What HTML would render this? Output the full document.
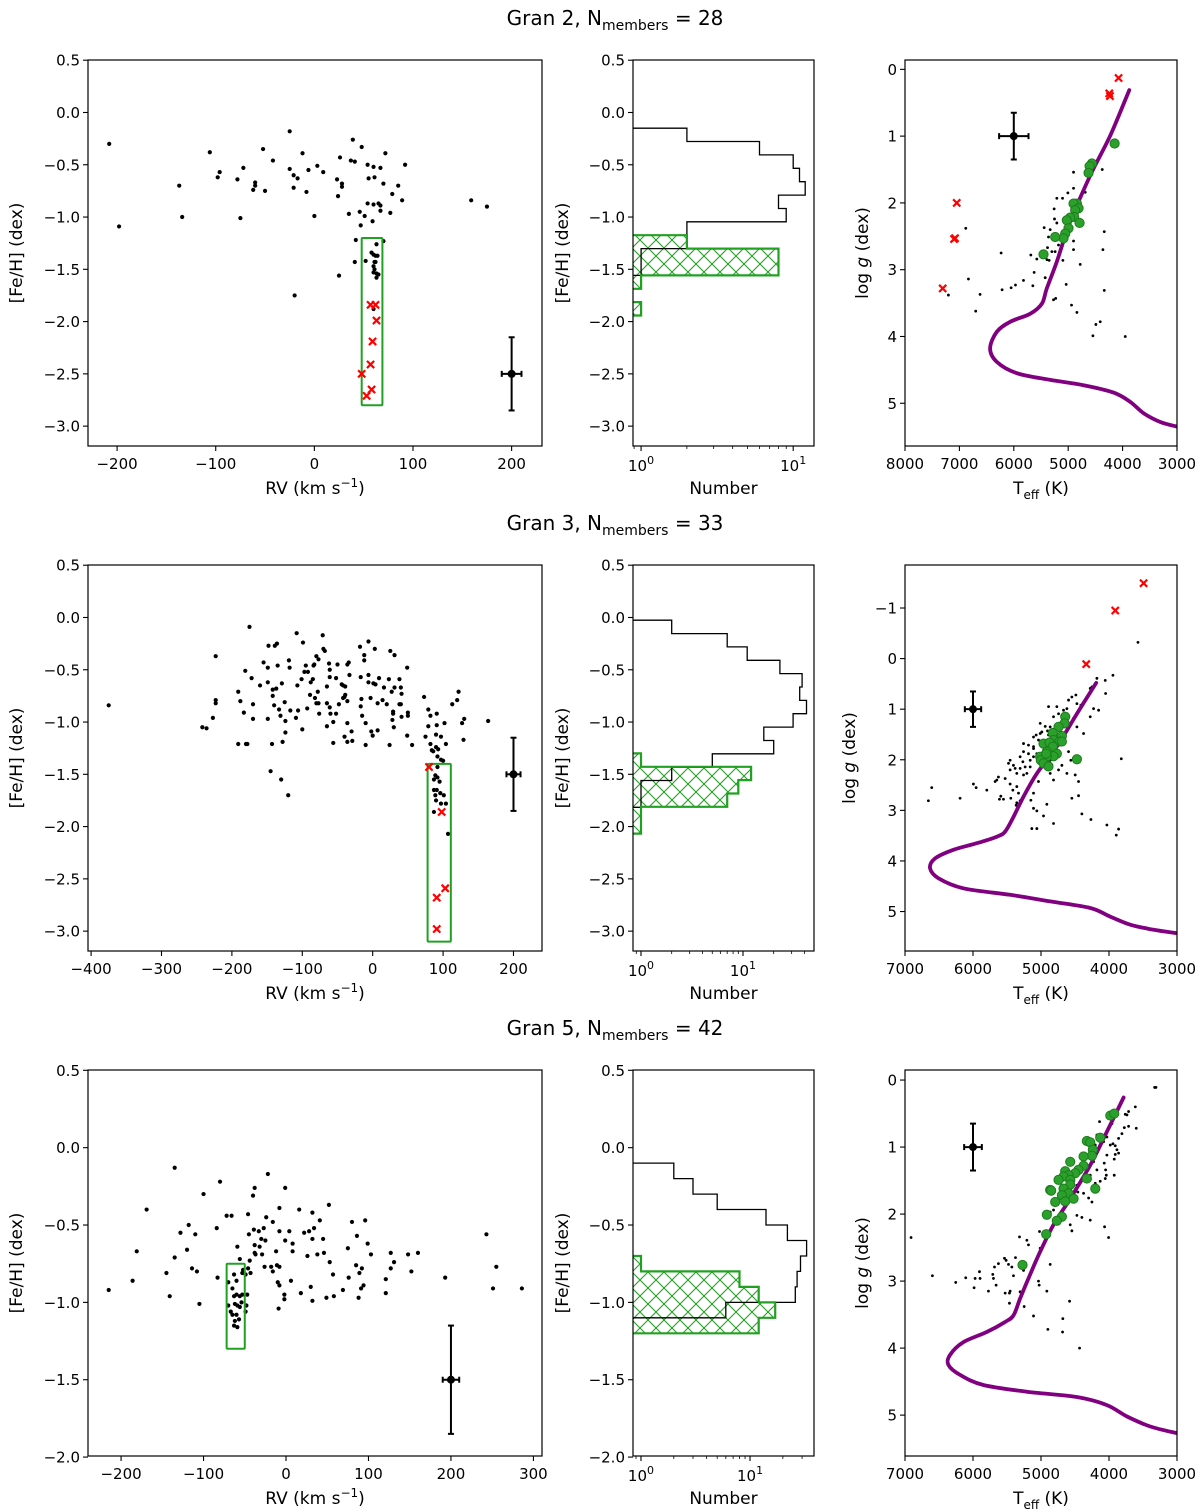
<!DOCTYPE html>
<html><head><meta charset="utf-8"><title>Gran clusters</title>
<style>
html,body{margin:0;padding:0;background:#fff;}
svg{display:block;font-family:"DejaVu Sans","Liberation Sans",sans-serif;}
</style></head>
<body>
<svg id="fig" width="1200" height="1512" viewBox="0 0 1200 1512" xmlns="http://www.w3.org/2000/svg">
<defs>
<pattern id="hatch" patternUnits="userSpaceOnUse" width="16" height="16">
<path d="M0,0 L16,16 M16,0 L0,16" stroke="#22a022" stroke-width="1.1" fill="none"/>
</pattern>
</defs>
</svg>
<script>
// ---------------- DATA ----------------
// Row 1 (Gran 2)
const rv1 = [-208,-198,-137,-134,-106,-96,-98,-78,-72,-60,-60,-62,-50,-52,-42,-75,-25,-25,-21,-17,-21,-12,-6,-8,3,9,0,-20,23,28,28,24,26,37,41,39,48,54,60,67,72,92,55,61,70,85,79,89,54,60,65,67,67,77,35,46,51,59,47,159,175,42,70,63,58,60,64,62,52,61,62,41,60,61,60,63,65,63,25,60];
const fe1 = [-0.30,-1.09,-0.70,-1.00,-0.38,-0.57,-0.62,-0.64,-0.53,-0.67,-0.70,-0.74,-0.75,-0.35,-0.46,-1.01,-0.18,-0.54,-0.60,-0.63,-0.72,-0.39,-0.55,-0.76,-0.51,-0.57,-0.99,-1.75,-0.64,-0.68,-0.71,-0.80,-0.43,-0.46,-0.47,-0.26,-0.33,-0.50,-0.52,-0.53,-0.39,-0.50,-0.63,-0.62,-0.68,-0.70,-0.78,-0.84,-0.87,-0.88,-0.87,-0.89,-0.94,-0.96,-0.97,-0.95,-0.99,-1.04,-1.08,-0.84,-0.90,-1.22,-1.23,-1.26,-1.34,-1.36,-1.37,-1.37,-1.42,-1.43,-1.43,-1.43,-1.47,-1.50,-1.53,-1.54,-1.55,-1.58,-1.56,-1.88];
const redRv1 = [57,62,63,59,57,48,58,53];
const redFe1 = [-1.84,-1.84,-1.99,-2.19,-2.41,-2.50,-2.65,-2.71];
const box1 = [48,69,-1.2,-2.8];
const histAll1 = [2,6,10,11,12,8,9,2,2,1,1];
const histMem1 = [2,8,8,1,0,1];
const histAllStart1 = -0.15, histMemStart1 = -1.174, binW1 = 0.128;
const teff1 = [4902,4374,5006,4687,4902,5209,5104,5258,5252,5209,5442,5331,5362,4337,4902,5178,5380,4902,5300,5240,4362,5687,5577,5350,5390,5098,4779,6233,6883,5626,6834,5822,5650,5423,5037,5969,6049,6215,6620,7202,4337,5270,5230,4939,4840,6700,4411,4491,4546,3951];
const logg1 = [1.54,1.50,1.85,1.84,1.78,1.93,1.93,2.09,2.24,2.30,2.37,2.40,2.51,2.43,2.57,2.63,2.67,2.70,2.73,2.73,2.70,2.78,2.84,2.86,2.85,2.86,2.92,2.75,2.38,3.04,3.14,3.16,3.24,3.12,3.22,3.23,3.27,3.30,3.37,3.38,3.31,3.45,3.43,3.53,3.64,3.62,3.78,3.82,3.99,4.0];
const memTeff1 = [4147,4564,4607,4626,4840,4902,4810,4871,4890,4963,5025,4791,4994,5055,5086,5239,5454];
const memLogg1 = [1.11,1.41,1.45,1.55,2.01,2.01,2.08,2.11,2.21,2.22,2.26,2.30,2.38,2.46,2.53,2.51,2.77];
const redTeff1 = [4074,4245,4233,7049,7098,7080,7307];
const redLogg1 = [0.13,0.36,0.40,2.0,2.54,2.53,3.28];
const isoTeff1 = [3877,4227,4595,4963,5209,5393,5485,5700,6067,6313,6436,6313,5945,5331,4718,4166,3859,3613,3307,3000];
const isoLogg1 = [0.31,0.99,1.59,2.28,2.88,3.28,3.51,3.66,3.78,3.93,4.18,4.38,4.55,4.65,4.73,4.84,4.98,5.15,5.28,5.35];

// Row 2 (Gran 3)
const rv2 = [-375,-242,-236,-227,-223,-223,-223,-191,-188,-183,
-170,-170,-191,-180,-178,-181,-172,-175,-160,-155,
-149,-148,-139,-136,-135,-149,-142,-142,-137,-129,
-133,-131,-140,-149,-143,-128,-125,-124,-124,-119,
-118,-145,-130,-120,-117,-108,-107,-106,-109,-101,
-99,-97,-95,-92,-89,-93,-100,-88,-85,-84,
-83,-80,-77,-82,-80,-77,-76,-78,-71,-70,
-68,-65,-65,-65,-62,-61,-61,-61,-60,-56,
-56,-52,-52,-50,-48,-44,-42,-40,-42,-39,
-39,-36,-36,-36,-36,-40,-34,-33,-30,-29,
-18,-17,-16,-17,-15,-12,-12,-10,-10,-6,
-6,-6,-3,-2,0,1,3,4,7,7,
9,14,16,20,23,25,27,31,31,29,
29,28,30,24,38,40,41,38,40,41,
49,50,50,49,56,73,79,82,79,75,
91,91,90,97,102,104,82,84,86,90,
93,92,97,100,92,89,92,87,95,87,
91,96,101,89,90,97,104,87,107,113,
120,122,127,130,129,164];
const fe2 = [-0.84,-1.05,-1.06,-0.96,-0.37,-0.79,-0.82,-0.71,-0.80,-0.91,
-0.83,-0.97,-1.21,-1.21,-1.21,-0.51,-0.58,-0.09,-0.65,-0.43,
-0.48,-0.27,-0.27,-0.25,-0.46,-0.62,-0.69,-0.75,-0.68,-0.63,
-0.88,-0.94,-0.84,-0.97,-1.21,-1.19,-0.81,-1.10,-0.99,-0.41,
-0.48,-1.47,-1.55,-1.70,-0.89,-0.15,-0.65,-0.89,-0.96,-0.59,
-0.24,-0.52,-0.46,-0.52,-0.74,-0.87,-1.07,-0.62,-0.59,-0.46,
-0.45,-0.37,-0.40,-0.77,-0.82,-0.82,-0.92,-0.71,-0.17,-0.30,
-0.32,-0.66,-0.82,-1.04,-0.44,-0.50,-0.57,-0.86,-0.92,-1.00,
-1.20,-0.92,-0.58,-0.45,-0.83,-0.64,-0.65,-0.76,-0.77,-0.66,
-0.74,-0.45,-0.80,-1.01,-1.19,-1.14,-0.43,-0.55,-1.09,-1.18,
-0.28,-0.57,-0.78,-0.85,-0.94,-0.36,-0.41,-1.01,-1.22,-0.23,
-0.55,-0.62,-0.77,-1.09,-1.13,-0.63,-0.30,-0.64,-0.82,-1.08,
-0.58,-0.79,-0.67,-0.83,-0.59,-0.32,-0.71,-0.36,-0.67,-0.90,
-0.92,-0.98,-1.05,-1.22,-0.59,-0.67,-0.73,-0.83,-0.83,-0.95,
-0.48,-0.91,-0.94,-1.13,-1.22,-0.76,-0.88,-0.94,-1.04,-1.14,
-0.92,-1.03,-1.12,-1.14,-1.01,-1.21,-1.21,-1.27,-1.28,-1.24,
-1.26,-1.33,-1.36,-1.37,-1.43,-1.51,-1.53,-1.55,-1.57,-1.65,
-1.65,-1.68,-1.70,-1.70,-1.75,-1.78,-1.78,-1.86,-2.07,-0.83,
-0.79,-0.71,-1.01,-0.97,-1.17,-0.99];
const redRv2 = [80,98,103,91,91];
const redFe2 = [-1.43,-1.86,-2.59,-2.68,-2.98];
const box2 = [78,111,-1.40,-3.10];
const histAll2 = [2,7,11,23,38,36,42,31,16,20,5,2,1,1];
const histMem2 = [1,12,9,7,1,1];
const histAllStart2 = -0.026, histMemStart2 = -1.30, binW2 = 0.1278;
const teff2 = [6656,6607,6190,5994,5954,5797,5675,5650,5591,5611,5552,5626,5527,5454,5414,5444,5331,5307,5356,5365,5454,5478,5405,5356,5307,5257,5380,5267,5233,5208,5159,5110,5184,5257,5061,5110,5037,5071,5012,4988,4938,4904,4889,4865,4767,4742,4669,4619,4595,4546,4487,4472,4413,4374,4325,4276,4178,4251,4055,3942,4050,4227,4153,4276,4374,4472,4521,4595,4561,4497,4448,4546,4448,4399,4266,4031,3893,3859,3819,3574,5149,5110,5061,4963,5135,5061,4816,4914,5110,5037,4865,4816,4742,4619,5184,5110,5012,4889,4816,5110,5257,5307,5454,5159,5356,4865,4693];
const logg2 = [2.81,2.55,2.76,2.48,2.55,2.60,2.43,2.40,2.72,2.78,2.78,2.34,2.37,2.48,2.60,2.76,2.66,2.81,2.85,2.90,2.20,2.07,2.11,2.27,2.17,2.30,2.17,2.04,2.14,2.27,2.01,1.94,1.88,1.84,1.88,1.74,1.61,1.51,1.48,1.45,1.34,1.43,1.51,1.35,0.95,1.09,1.02,0.99,0.82,0.76,0.72,0.89,0.92,0.86,0.76,0.59,0.39,0.56,0.43,0.33,0.69,0.99,1.02,1.15,1.48,1.35,1.18,1.84,2.01,2.30,2.43,2.76,2.71,3.07,3.18,3.29,3.49,3.37,1.98,-0.32,2.80,2.96,3.01,3.11,3.36,3.36,3.26,2.88,2.66,2.43,2.27,2.40,2.20,2.27,1.71,1.55,1.28,0.95,1.15,1.78,1.68,1.94,2.01,2.14,2.53,2.01,2.11];
const memTeff2 = [4644,4654,4742,4826,4693,4816,4727,4963,4875,4693,4826,4914,4767,4816,5012,4914,5002,4963,4890,4472,4924];
const memLogg2 = [1.15,1.28,1.35,1.47,1.53,1.61,1.64,1.68,1.66,1.64,1.74,1.84,1.88,1.93,1.94,1.94,2.01,2.07,2.13,1.99,1.88];
const redTeff2 = [3491,3908,4335];
const redLogg2 = [-1.49,-0.95,0.11];
const isoTeff2 = [4188,4472,4767,5061,5258,5405,5528,5650,5945,6288,6558,6632,6509,6141,5454,4865,4276,3982,3687,3344,3000];
const isoLogg2 = [0.48,1.09,1.74,2.27,2.73,3.13,3.42,3.52,3.65,3.78,3.95,4.14,4.34,4.54,4.67,4.80,4.93,5.10,5.26,5.36,5.43];

// Row 3 (Gran 5)
const rv3 = [-215,-186,-181,-169,-145,-141,-135,-135,-128,-120,
-118,-114,-110,-108,-105,-100,-84,-83,-80,-72,
-66,-59,-56,-46,-45,-44,-43,-40,-38,-39,
-38,-38,-37,-33,-32,-30,-29,-27,-26,-25,
-24,-22,-18,-16,-16,-12,-11,-10,-8,-8,
-8,-8,-9,-2,-2,-1,-1,4,6,8,
8,16,18,22,26,28,30,32,32,32,
34,38,41,45,46,49,52,53,57,58,
69,75,76,80,85,86,88,89,92,91,
94,96,99,103,121,121,127,127,131,148,
152,160,193,243,251,255,286,
-70,-63,-60,-65,-63,-60,-56,-53,-53,-52,
-70,-67,-62,-59,-56,-54,-65,-60,-57,-62,
-63,-59,-49,-48,-47,-49,-46];
const fe3 = [-0.92,-0.86,-0.67,-0.40,-0.81,-0.96,-0.13,-0.71,-0.55,-0.66,
-0.50,-0.78,-0.56,-0.80,-1.01,-0.30,-0.52,-0.84,-0.22,-0.44,
-0.44,-0.64,-0.72,-0.43,-0.56,-0.73,-0.81,-0.31,-0.26,-0.53,
-0.63,-0.68,-0.69,-0.54,-0.64,-0.59,-0.69,-0.52,-0.77,-0.60,
-0.45,-0.17,-0.77,-0.48,-0.80,-0.67,-0.76,-0.87,-0.39,-0.54,
-0.77,-0.89,-1.04,-0.98,-0.95,-0.26,-0.60,-0.54,-0.86,-0.62,
-0.67,-0.40,-0.94,-0.55,-0.70,-0.54,-0.90,-0.59,-0.42,-0.99,
-0.52,-0.69,-0.47,-0.59,-0.68,-0.97,-0.37,-0.74,-0.82,-0.96,
-0.92,-0.65,-0.84,-0.48,-0.76,-0.57,-0.97,-0.81,-0.78,-0.91,
-0.89,-0.47,-0.62,-0.69,-0.85,-0.94,-0.68,-0.78,-0.74,-0.69,
-0.80,-0.68,-0.84,-0.56,-0.91,-0.77,-0.91,
-0.87,-0.82,-0.86,-0.91,-0.96,-0.95,-0.96,-0.95,-0.81,-0.79,
-1.02,-1.06,-1.01,-1.02,-1.03,-1.00,-1.08,-1.08,-1.11,-1.12,
-1.15,-1.16,-1.06,-1.02,-0.95,-0.82,-0.78];
const box3 = [-72,-50,-0.75,-1.30];
const histAll3 = [2,3,5,14,22,33,29,27,26,6];
const histMem3 = [1,8,12,17,12];
const histAllStart3 = -0.1, histMemStart3 = -0.7, binW3 = 0.1;
const teff3 = [6911,6597,6254,6107,5984,5969,5905,5896,5773,5709,5699,5684,5660,5626,5537,5513,5478,5429,5464,5527,5454,5405,5375,5464,5307,5257,5248,5184,5110,5316,5208,5184,5012,5022,5037,5027,4914,4865,4899,4679,4683,4580,4433,4570,4546,4472,4399,4276,4065,4006,4865,4816,4374,4300,4251,4202,4129,4055,4040,4050,3923,4070,4031,3981,3942,3908,3883,3859,3923,3908,3859,3810,3775,3712,3599,3736,3712,3613,3761,3957,4139,4178,4080,4202,4031,4227,4178,4276,4472,4458,3329,3309,4619];
const logg3 = [2.35,2.92,3.02,2.95,3.10,2.96,2.86,2.96,3.15,2.90,2.96,2.79,3.06,2.74,2.66,2.69,2.75,2.79,3.18,3.18,3.15,2.92,2.65,3.33,3.16,2.84,3.38,2.96,3.52,2.34,2.39,2.46,2.51,2.26,3.0,3.06,3.15,2.75,3.72,3.56,3.76,3.30,4.0,2.16,2.25,2.02,2.05,2.09,2.19,2.35,1.97,1.94,1.69,1.76,1.82,1.54,1.51,1.47,1.42,1.34,1.42,1.24,1.12,0.97,0.95,0.98,1.04,1.09,1.18,1.11,0.87,0.80,0.71,0.69,0.72,0.52,0.47,0.40,0.51,0.65,0.62,0.82,0.92,0.97,0.85,1.22,1.34,1.42,1.57,1.67,0.11,0.11,1.77];
const memTeff3 = [3981,3923,4129,4325,4276,4237,4251,4374,4570,4374,4448,4497,4644,4595,4669,4570,4742,4325,4570,4202,4865,4850,4669,4595,4693,4521,4644,4791,4914,4693,4767,4924,5272];
const memLogg3 = [0.53,0.50,0.86,0.91,0.93,1.04,1.13,1.14,1.22,1.28,1.34,1.39,1.36,1.42,1.44,1.49,1.49,1.47,1.56,1.62,1.64,1.65,1.62,1.69,1.72,1.77,1.81,1.82,2.01,2.04,2.10,2.30,2.76];
const isoTeff3 = [3785,4031,4276,4571,4816,5012,5184,5307,5405,5528,5798,6141,6337,6362,6190,5847,5209,4472,4031,3736,3393,3000];
const isoLogg3 = [0.26,0.77,1.27,1.77,2.16,2.56,2.96,3.26,3.51,3.61,3.76,3.91,4.10,4.25,4.40,4.55,4.65,4.73,4.85,5.02,5.17,5.27];

// Tick values
const feTicksA = [0.5,0.0,-0.5,-1.0,-1.5,-2.0,-2.5,-3.0];
const feTicksB = [0.5,0.0,-0.5,-1.0,-1.5,-2.0];
const rvTicks1 = [-200,-100,0,100,200];
const rvTicks2 = [-400,-300,-200,-100,0,100,200];
const rvTicks3 = [-200,-100,0,100,200,300];
const teffTicks1 = [8000,7000,6000,5000,4000,3000];
const teffTicks23 = [7000,6000,5000,4000,3000];
const loggTicks1 = [0,1,2,3,4,5];
const loggTicks2 = [-1,0,1,2,3,4,5];
const titleNums = [28,33,42];
const titleIds = [2,3,5];

// ---------------- DRAWING ----------------
const NS = 'http://www.w3.org/2000/svg';
const svg = document.getElementById('fig');
const GREEN = '#22a022';
function el(tag, attrs, parent) {
  const e = document.createElementNS(NS, tag);
  for (const k in attrs) e.setAttribute(k, attrs[k]);
  (parent || svg).appendChild(e);
  return e;
}
function fmt(v, dec) {
  const s = Math.abs(v).toFixed(dec);
  return (v < 0 ? '\u2212' : '') + s;
}
let clipId = 0;
function makePanel(name, x0, y0, x1, y1, xlim, ylim, xlog) {
  const g = el('g', {});
  
  
  const id = 'clip' + (clipId++);
  const cp = el('clipPath', {id: id}, g);
  el('rect', {x: x0, y: y0, width: x1 - x0, height: y1 - y0}, cp);
  const data = el('g', {'clip-path': 'url(#' + id + ')'}, g);
  
  
  const sx = xlog
    ? v => x0 + (Math.log10(v) - Math.log10(xlim[0])) / (Math.log10(xlim[1]) - Math.log10(xlim[0])) * (x1 - x0)
    : v => x0 + (v - xlim[0]) / (xlim[1] - xlim[0]) * (x1 - x0);
  const sy = v => y0 + (v - ylim[0]) / (ylim[1] - ylim[0]) * (y1 - y0);
  return {g, data, sx, sy, x0, y0, x1, y1};
}
function frame(P) {
  const r = el('rect', {x: P.x0, y: P.y0, width: P.x1 - P.x0, height: P.y1 - P.y0, fill: 'none', stroke: '#000', 'stroke-width': 1.2}, P.g);
  
  
}
function xTicks(P, vals, labels) {
  vals.forEach((v, i) => {
    const x = P.sx(v);
    el('line', {x1: x, x2: x, y1: P.y1, y2: P.y1 + 5, stroke: '#000', 'stroke-width': 1.1}, P.g);
    if (labels) {
      const t = el('text', {x: x, y: P.y1 + 23, 'font-size': 15, 'text-anchor': 'middle'}, P.g);
      t.textContent = labels[i];
      
      
    }
  });
}
function yTicks(P, vals, labels) {
  vals.forEach((v, i) => {
    const y = P.sy(v);
    el('line', {x1: P.x0 - 5, x2: P.x0, y1: y, y2: y, stroke: '#000', 'stroke-width': 1.1}, P.g);
    const t = el('text', {x: P.x0 - 8, y: y + 5.5, 'font-size': 15, 'text-anchor': 'end'}, P.g);
    t.textContent = labels[i];
    
    
  });
}
function xLabel(P, html, name) {
  const t = el('text', {x: (P.x0 + P.x1) / 2, y: P.y1 + 48, 'font-size': 17, 'text-anchor': 'middle'}, P.g);
  t.innerHTML = html;
  
  
}
function yLabel(P, off, html, name) {
  const cx = P.x0 - off, cy = (P.y0 + P.y1) / 2;
  const t = el('text', {x: cx, y: cy, 'font-size': 17, 'text-anchor': 'middle', transform: 'rotate(-90 ' + cx + ' ' + cy + ')'}, P.g);
  t.innerHTML = html;
  
  
}
function dots(P, xs, ys, r, name) {
  const g = el('g', {}, P.data);
  
  
  xs.forEach((x, i) => {
    const c = el('circle', {cx: P.sx(x), cy: P.sy(ys[i]), r: r, fill: '#000'}, g);
    
    
  });
}
function greenDots(P, xs, ys, name) {
  const g = el('g', {}, P.data);
  
  
  xs.forEach((x, i) => {
    const c = el('circle', {cx: P.sx(x), cy: P.sy(ys[i]), r: 4.6, fill: '#2ca02c', stroke: '#1b7d1b', 'stroke-width': 1}, g);
    
    
  });
}
function crosses(P, xs, ys, name) {
  const g = el('g', {}, P.data);
  
  
  xs.forEach((x, i) => {
    const cx = P.sx(x), cy = P.sy(ys[i]), s = 3.6;
    const p = el('path', {d: `M${cx - s},${cy - s}L${cx + s},${cy + s}M${cx + s},${cy - s}L${cx - s},${cy + s}`, stroke: '#ff0000', 'stroke-width': 2.2, fill: 'none'}, g);
    
    
  });
}
function errbar(P, x, y, ex, ey) {
  const g = el('g', {stroke: '#000', 'stroke-width': 2}, P.data);
  
  
  const cx = P.sx(x), cy = P.sy(y);
  const xa = P.sx(x - ex), xb = P.sx(x + ex), ya = P.sy(y - ey), yb = P.sy(y + ey);
  el('line', {x1: xa, x2: xb, y1: cy, y2: cy}, g);
  el('line', {x1: cx, x2: cx, y1: ya, y2: yb}, g);
  el('line', {x1: xa, x2: xa, y1: cy - 3, y2: cy + 3}, g);
  el('line', {x1: xb, x2: xb, y1: cy - 3, y2: cy + 3}, g);
  el('line', {x1: cx - 3, x2: cx + 3, y1: ya, y2: ya}, g);
  el('line', {x1: cx - 3, x2: cx + 3, y1: yb, y2: yb}, g);
  el('circle', {cx: cx, cy: cy, r: 4, fill: '#000', stroke: 'none'}, g);
}
function memberBox(P, b) {
  const x = P.sx(b[0]), w = P.sx(b[1]) - x, y = P.sy(b[2]), h = P.sy(b[3]) - y;
  const r = el('rect', {x: x, y: y, width: w, height: h, fill: 'none', stroke: GREEN, 'stroke-width': 2, rx: 1}, P.data);
  
  
}
function isochrone(P, ts, gs) {
  const p = ts.map((t, i) => [P.sx(t), P.sy(gs[i])]);
  let d = 'M' + p[0][0].toFixed(1) + ',' + p[0][1].toFixed(1);
  for (let i = 0; i < p.length - 1; i++) {
    const p0 = p[Math.max(0, i - 1)], p1 = p[i], p2 = p[i + 1], p3 = p[Math.min(p.length - 1, i + 2)];
    const c1x = p1[0] + (p2[0] - p0[0]) / 6, c1y = p1[1] + (p2[1] - p0[1]) / 6;
    const c2x = p2[0] - (p3[0] - p1[0]) / 6, c2y = p2[1] - (p3[1] - p1[1]) / 6;
    d += ` C${c1x.toFixed(1)},${c1y.toFixed(1)} ${c2x.toFixed(1)},${c2y.toFixed(1)} ${p2[0].toFixed(1)},${p2[1].toFixed(1)}`;
  }
  const l = el('path', {d: d, fill: 'none', stroke: '#800080', 'stroke-width': 3.8, 'stroke-linejoin': 'round', 'stroke-linecap': 'round'}, P.data);
  
  
}
function stepPts(P, start, w, counts) {
  const cx = c => (c > 0 ? P.sx(c) : P.x0 - 2);
  const pts = [[P.x0 - 2, P.sy(start)]];
  counts.forEach((c, i) => {
    const x = cx(c);
    pts.push([x, P.sy(start - i * w)]);
    pts.push([x, P.sy(start - (i + 1) * w)]);
  });
  pts.push([P.x0 - 2, P.sy(start - counts.length * w)]);
  return pts.map(p => p[0].toFixed(1) + ',' + p[1].toFixed(1)).join(' ');
}
function hist(P, allStart, memStart, w, allC, memC) {
  const pts = stepPts(P, memStart, w, memC);
  const f1 = el('polygon', {points: pts, fill: '#fff', stroke: 'none'}, P.data);
  
  
  const f2 = el('polygon', {points: pts, fill: 'url(#hatch)', stroke: 'none'}, P.data);
  
  
  const a = el('polyline', {points: stepPts(P, allStart, w, allC), fill: 'none', stroke: '#000', 'stroke-width': 1.3}, P.data);
  
  
  const o = el('polygon', {points: pts, fill: 'none', stroke: GREEN, 'stroke-width': 2.2}, P.data);
  
  
}
function logXTicks(P, xlim) {
  for (let d = -1; d <= 2; d++) {
    for (let m = 1; m <= 9; m++) {
      const v = m * Math.pow(10, d);
      if (v < xlim[0] || v > xlim[1]) continue;
      const x = P.sx(v);
      const major = m === 1;
      el('line', {x1: x, x2: x, y1: P.y1, y2: P.y1 + (major ? 5 : 3), stroke: '#000', 'stroke-width': major ? 1.1 : 0.8}, P.g);
      if (major) {
        const t = el('text', {x: x, y: P.y1 + 25, 'font-size': 15, 'text-anchor': 'middle'}, P.g);
        t.innerHTML = '10<tspan dy="-7" font-size="11">' + d + '</tspan>';
        
        
      }
    }
  }
}
function title(y, id, n) {
  const t = el('text', {x: 615, y: y, 'font-size': 20, 'text-anchor': 'middle'});
  t.innerHTML = 'Gran ' + id + ', N<tspan dy="5" font-size="14">members</tspan><tspan dy="-5"> = ' + n + '</tspan>';
  
  
}

const rows = [
  {top: 60, bot: 446, titleY: 25, rvLim: [-229.5, 230.8], feLim: [0.502, -3.19], feTicks: feTicksA, rvTicks: rvTicks1,
   rv: rv1, fe: fe1, redRv: redRv1, redFe: redFe1, box: box1, errRv: 200, errFe: -2.5,
   hLim: [0.885, 13.7], hAll: histAll1, hMem: histMem1, hAS: histAllStart1, hMS: histMemStart1, hW: binW1,
   tLim: [8000, 3000], gLim: [-0.14, 5.64], tTicks: teffTicks1, gTicks: loggTicks1, gOff: 37,
   teff: teff1, logg: logg1, mT: memTeff1, mG: memLogg1, rT: redTeff1, rG: redLogg1, iT: isoTeff1, iG: isoLogg1, tErr: 270},
  {top: 565, bot: 951, titleY: 530, rvLim: [-404.4, 240.5], feLim: [0.502, -3.19], feTicks: feTicksA, rvTicks: rvTicks2,
   rv: rv2, fe: fe2, redRv: redRv2, redFe: redFe2, box: box2, errRv: 200, errFe: -1.5,
   hLim: [0.835, 49.7], hAll: histAll2, hMem: histMem2, hAS: histAllStart2, hMS: histMemStart2, hW: binW2,
   tLim: [7000, 3000], gLim: [-1.85, 5.78], tTicks: teffTicks23, gTicks: loggTicks2, gOff: 50,
   teff: teff2, logg: logg2, mT: memTeff2, mG: memLogg2, rT: redTeff2, rG: redLogg2, iT: isoTeff2, iG: isoLogg2, tErr: 120},
  {top: 1070, bot: 1456, titleY: 1035, rvLim: [-240.1, 310.4], feLim: [0.502, -1.993], feTicks: feTicksB, rvTicks: rvTicks3,
   rv: rv3, fe: fe3, redRv: [], redFe: [], box: box3, errRv: 200, errFe: -1.5,
   hLim: [0.845, 38.6], hAll: histAll3, hMem: histMem3, hAS: histAllStart3, hMS: histMemStart3, hW: binW3,
   tLim: [7000, 3000], gLim: [-0.15, 5.61], tTicks: teffTicks23, gTicks: loggTicks1, gOff: 37,
   teff: teff3, logg: logg3, mT: memTeff3, mG: memLogg3, rT: [], rG: [], iT: isoTeff3, iG: isoLogg3, tErr: 130}
];

rows.forEach((R, k) => {
  title(R.titleY, titleIds[k], titleNums[k]);
  const feLabels = R.feTicks.map(v => fmt(v, 1));
  const A = makePanel('rv-feh-panel-' + (k + 1), 88, R.top, 542, R.bot, R.rvLim, R.feLim, false);
  dots(A, R.rv, R.fe, 2.1, 'field-stars');
  memberBox(A, R.box);
  crosses(A, R.redRv, R.redFe, 'excluded-stars');
  errbar(A, R.errRv, R.errFe, 10, 0.35);
  frame(A);
  xTicks(A, R.rvTicks, R.rvTicks.map(v => fmt(v, 0)));
  yTicks(A, R.feTicks, feLabels);
  xLabel(A, 'RV (km s<tspan dy="-7" font-size="12">\u22121</tspan><tspan dy="7">)</tspan>', 'x-axis-title');
  yLabel(A, 66, '[Fe/H] (dex)', 'y-axis-title');
  const B = makePanel('feh-histogram-panel-' + (k + 1), 633, R.top, 814, R.bot, R.hLim, R.feLim, true);
  hist(B, R.hAS, R.hMS, R.hW, R.hAll, R.hMem);
  frame(B);
  logXTicks(B, R.hLim);
  yTicks(B, R.feTicks, feLabels);
  xLabel(B, 'Number', 'x-axis-title');
  yLabel(B, 65, '[Fe/H] (dex)', 'y-axis-title');
  const C = makePanel('kiel-diagram-panel-' + (k + 1), 905, R.top, 1177, R.bot, R.tLim, R.gLim, false);
  dots(C, R.teff, R.logg, 1.4, 'field-stars');
  isochrone(C, R.iT, R.iG);
  greenDots(C, R.mT, R.mG, 'member-stars');
  crosses(C, R.rT, R.rG, 'excluded-stars');
  errbar(C, 6000, 1.0, R.tErr, 0.35);
  frame(C);
  xTicks(C, R.tTicks, R.tTicks.map(v => String(v)));
  yTicks(C, R.gTicks, R.gTicks.map(v => fmt(v, 0)));
  xLabel(C, 'T<tspan dy="5" font-size="12">eff</tspan><tspan dy="-5"> (K)</tspan>', 'x-axis-title');
  yLabel(C, R.gOff, 'log <tspan font-style="italic">g</tspan> (dex)', 'y-axis-title');
});
</script>
</body></html>
